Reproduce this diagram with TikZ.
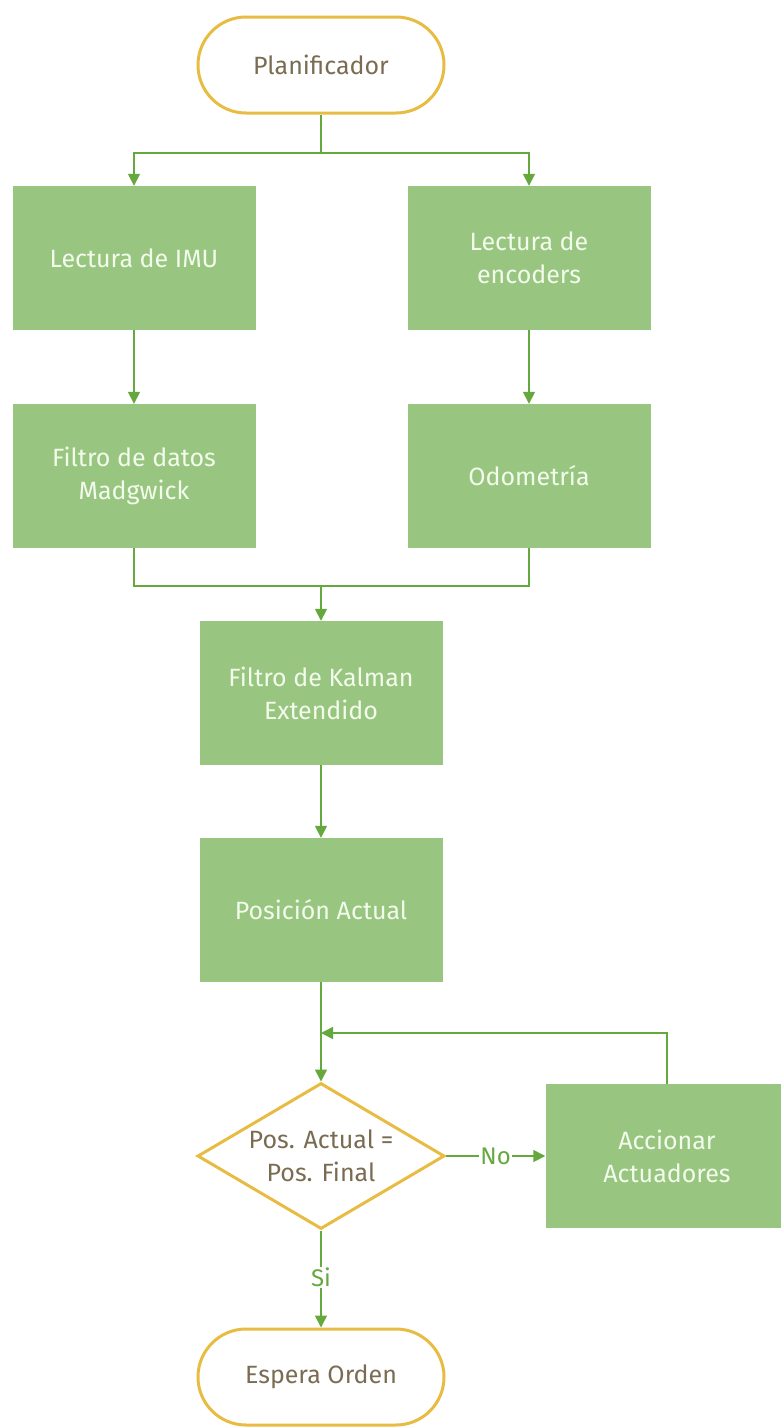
\documentclass[tikz,border=0pt]{standalone}
\usepackage{fontspec}
\setmainfont{Fira Sans}
\usepackage{xcolor}
\usetikzlibrary{arrows.meta,positioning,shapes.geometric}
\definecolor{boxg}{HTML}{98C680}
\definecolor{lineg}{HTML}{64A83E}
\definecolor{txtl}{HTML}{F3FBEC}
\definecolor{gold}{HTML}{E8BC42}
\definecolor{txtd}{HTML}{7A6C52}
\tikzset{
  ar/.style={-{Triangle[length=12pt,width=12pt]},line width=1.6pt,lineg},
  ln/.style={line width=1.6pt,lineg},
  proc/.style={fill=boxg,minimum width=243pt,minimum height=144pt,align=center,text=txtl,font=\fontsize{25}{33}\selectfont},
  term/.style={draw=gold,line width=3pt,rounded corners=48pt,minimum width=246pt,minimum height=96pt,text=txtd,font=\fontsize{25}{33}\selectfont},
  decis/.style={diamond,draw=gold,line width=3pt,aspect=1.69,minimum width=247pt,minimum height=146pt,inner sep=-3pt,align=center,text=txtd,font=\fontsize{25}{33}\selectfont},
  lab/.style={fill=white,inner sep=1pt,text=lineg,font=\fontsize{24}{28}\selectfont}
}
\begin{document}
\begin{tikzpicture}[x=1pt,y=-1pt]
\useasboundingbox (0,0) rectangle (781,1428);
% nodes
\node[term] (plan) at (321,65) {Planificador};
\node[proc] (imu) at (134,258) {Lectura de IMU};
\node[proc] (enc) at (529,258) {Lectura de\\encoders};
\node[proc] (madg) at (134,476) {Filtro de datos\\Madgwick};
\node[proc] (odo) at (529,476) {Odometría};
\node[proc] (ekf) at (321,693) {Filtro de Kalman\\Extendido};
\node[proc] (pos) at (321,910) {Posición Actual};
\node[decis] (dec) at (321,1156) {Pos. Actual =\\Pos. Final};
\node[proc] (act) at (667,1156) {Accionar\\Actuadores};
\node[term] (wait) at (321,1377) {Espera Orden};
% joints
\coordinate (split) at (321,153);
\coordinate (join) at (321,586);
\coordinate (loopin) at (321,1033);
% connectors
\draw[ln] (plan.south) -- (split);
\draw[ar] (split) -| (imu.north);
\draw[ar] (split) -| (enc.north);
\draw[ar] (imu) -- (madg);
\draw[ar] (enc) -- (odo);
\draw[ln] (madg.south) |- (join);
\draw[ln] (odo.south) |- (join);
\draw[ar] (join) -- (ekf.north);
\draw[ar] (ekf) -- (pos);
\draw[ar] (pos) -- (dec);
\draw[ar] (act.north) |- (loopin);
\draw[ar] (dec.east) -- node[lab] {No} (act.west);
\draw[ar] (dec.south) -- node[lab,pos=0.48] {Si} (wait.north);
\end{tikzpicture}
\end{document}
